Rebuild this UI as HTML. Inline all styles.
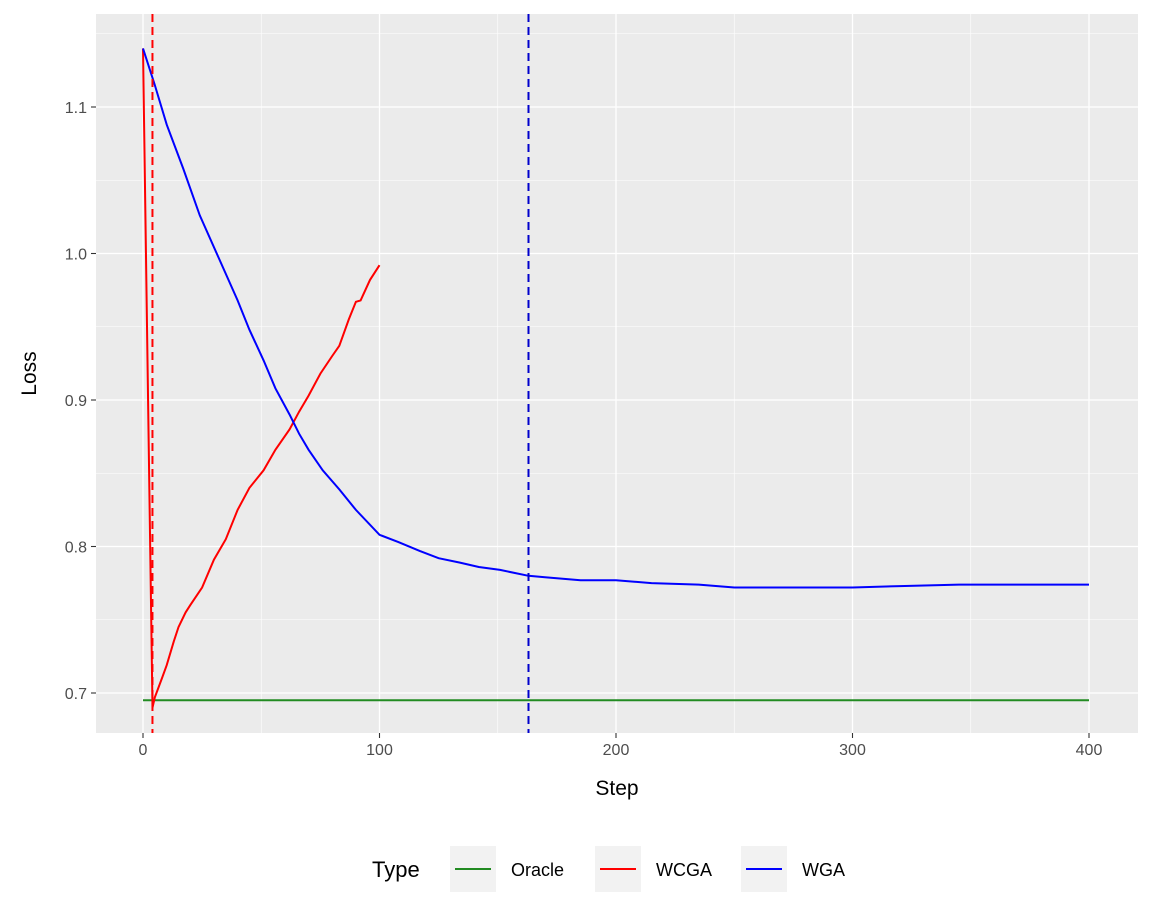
<!DOCTYPE html>
<html><head><meta charset="utf-8"><style>
html,body{margin:0;padding:0;background:#fff;}
svg{display:block;font-family:"Liberation Sans",sans-serif;}
</style></head><body>
<svg id="chart" width="1152" height="921"></svg>
<script>
const wgaSteps=[0,5,10,17,24,32,40,45,51,56,62,66,70,76,83,90,100,108,117,125,134,142,151,157,163,170,185,200,215,235,250,261,280,300,320,345,370,400];
const wgaLoss=[1.14,1.115,1.088,1.058,1.026,0.997,0.968,0.948,0.927,0.908,0.890,0.877,0.866,0.852,0.839,0.825,0.808,0.803,0.797,0.792,0.789,0.786,0.784,0.782,0.780,0.779,0.777,0.777,0.775,0.774,0.772,0.772,0.772,0.772,0.773,0.774,0.774,0.774];
const wcgaSteps=[0,4,5,8,10,13,15,18,20,25,30,35,40,45,51,56,62,66,70,75,80,83,87,90,92,96,100];
const wcgaLoss=[1.14,0.690,0.697,0.710,0.719,0.735,0.745,0.755,0.760,0.772,0.791,0.805,0.825,0.840,0.852,0.866,0.880,0.892,0.903,0.918,0.930,0.937,0.955,0.967,0.968,0.982,0.992];
const oracleSteps=[0,400];
const oracleLoss=[0.695,0.695];
const xTicks=[0,100,200,300,400];
const yTicks=[0.7,0.8,0.9,1.0,1.1];
const vlineSteps=[4,163];
const vlineColors=["#ff0000","#0000cc"];

const NS="http://www.w3.org/2000/svg";
const svg=document.getElementById('chart');
const L=96,R=1138,T=14,B=733;
const X=v=>143+(v-0)*(1089-143)/400;
const Y=v=>693-(v-0.7)*1465;
function mk(tag,attrs,parent){const e=document.createElementNS(NS,tag);for(const k in attrs)e.setAttribute(k,attrs[k]);(parent||svg).appendChild(e);return e;}

const panel=mk('rect',{x:L,y:T,width:R-L,height:B-T,fill:'#ebebeb'});


for(let i=0;i<xTicks.length-1;i++){const m=(xTicks[i]+xTicks[i+1])/2;const g=mk('line',{x1:X(m),x2:X(m),y1:T,y2:B,stroke:'#fff','stroke-width':0.6});}
for(let i=0;i<yTicks.length-1;i++){const m=(yTicks[i]+yTicks[i+1])/2;const g=mk('line',{x1:L,x2:R,y1:Y(m),y2:Y(m),stroke:'#fff','stroke-width':0.6});}
[0.65,1.15].forEach(m=>{if(Y(m)>T&&Y(m)<B){const g=mk('line',{x1:L,x2:R,y1:Y(m),y2:Y(m),stroke:'#fff','stroke-width':0.6});}});
xTicks.forEach(t=>{
 const g=mk('line',{x1:X(t),x2:X(t),y1:T,y2:B,stroke:'#fff','stroke-width':1.3});
 const k=mk('line',{x1:X(t),x2:X(t),y1:B,y2:B+5,stroke:'#333','stroke-width':1.1});
 const tx=mk('text',{x:X(t),y:B+22,'text-anchor':'middle','font-size':16,fill:'#4d4d4d'});tx.textContent=t;
});
yTicks.forEach(t=>{
 const g=mk('line',{x1:L,x2:R,y1:Y(t),y2:Y(t),stroke:'#fff','stroke-width':1.3});
 const k=mk('line',{x1:L-5,x2:L,y1:Y(t),y2:Y(t),stroke:'#333','stroke-width':1.1});
 const tx=mk('text',{x:L-9,y:Y(t)+6,'text-anchor':'end','font-size':16,fill:'#4d4d4d'});tx.textContent=t.toFixed(1);
});
function line(xs,ys,color,name){const d=xs.map((s,i)=>(i?'L':'M')+X(s).toFixed(1)+','+Y(ys[i]).toFixed(1)).join('');const p=mk('path',{d:d,fill:'none',stroke:color,'stroke-width':2});}
line(oracleSteps,oracleLoss,'#228b22','oracle-line');
line(wcgaSteps,wcgaLoss,'#ff0000','wcga-line');
line(wgaSteps,wgaLoss,'#0000ff','wga-line');
vlineSteps.forEach((s,i)=>{const v=mk('line',{x1:X(s),x2:X(s),y1:T,y2:B,stroke:vlineColors[i],'stroke-width':2,'stroke-dasharray':'8,5'});});
let t1=mk('text',{x:(L+R)/2,y:795,'text-anchor':'middle','font-size':21,fill:'#000'});t1.textContent='Step';

let t2=mk('text',{x:36,y:(T+B)/2,'text-anchor':'middle','font-size':21,fill:'#000',transform:`rotate(-90 36 ${(T+B)/2})`});t2.textContent='Loss';

let lt=mk('text',{x:372,y:877,'font-size':22,fill:'#000'});lt.textContent='Type';

const legNames=['Oracle','WCGA','WGA'],legCols=['#228b22','#ff0000','#0000ff'],legX=[450,595,741];
legNames.forEach((n,i)=>{
 const g=mk('g',{});
 mk('rect',{x:legX[i],y:846,width:46,height:46,fill:'#f2f2f2'},g);
 mk('line',{x1:legX[i]+5,x2:legX[i]+41,y1:869,y2:869,stroke:legCols[i],'stroke-width':2},g);
 const tx=mk('text',{x:legX[i]+61,y:876,'font-size':18,fill:'#000'},g);tx.textContent=n;
});
</script>
</body></html>
